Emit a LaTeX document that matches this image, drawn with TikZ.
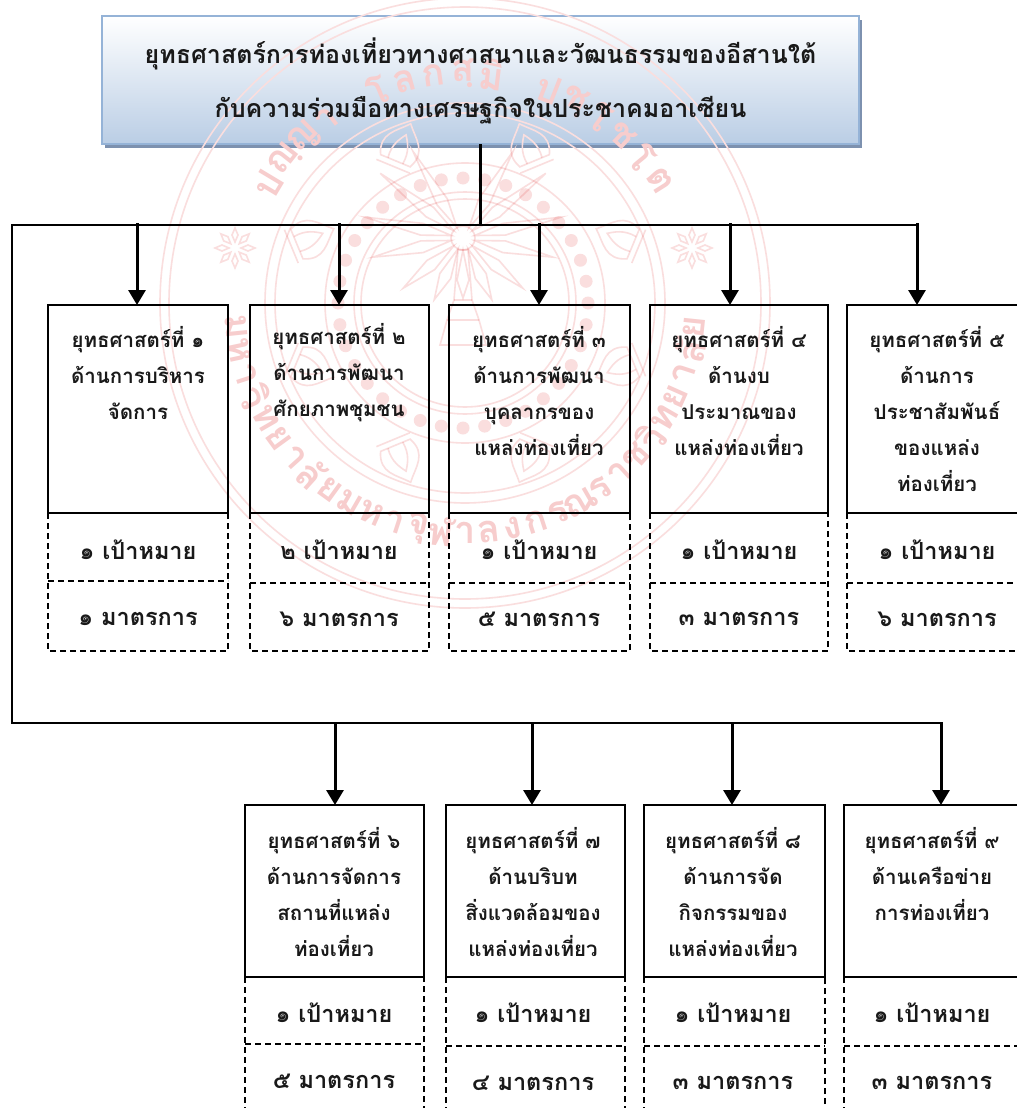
\documentclass[tikz,border=0pt]{standalone}
\usepackage{fontspec}
\usetikzlibrary{arrows.meta}
\setmainfont[Script=Thai]{Loma}
\definecolor{wmline}{RGB}{250,222,222}
\definecolor{wmtext}{RGB}{247,205,205}
\definecolor{boxedge}{RGB}{149,179,215}
\definecolor{boxshadow}{RGB}{125,145,175}
\tikzset{
  boxat/.style n args={4}{at={({(#1+#3)/2},{(#2+#4)/2})},minimum width={(#3-#1)*1pt},minimum height={(#4-#2)*1pt},inner sep=0pt,outer sep=0pt,rectangle},
  solidbox/.style={draw=black,line width=2.2pt},
  dashbox/.style={draw=black,line width=1.7pt,dash pattern=on 6pt off 4pt},
  linetext/.style={font=\fontsize{20.5}{36}\selectfont\bfseries,align=center,inner sep=0pt,text=black!90},
  bigtext/.style={font=\fontsize{23.5}{28}\selectfont\bfseries,inner sep=0pt,text=black!90},
  titletext/.style={font=\fontsize{25}{54}\selectfont\bfseries,align=center,inner sep=0pt,text=black!90},
  rail/.style={draw=black,line width=2.2pt,line join=miter},
  arrowline/.style={draw=black,line width=3pt,-{Triangle[length=15pt,width=17pt]}},
  wm/.style={draw=wmline,line width=1.6pt},
  wmglyph/.style={text=wmtext,inner sep=0pt,font=\fontsize{38}{38}\selectfont\bfseries},
}
\newcommand\stratcol[9]{%
  \node[boxat={#2}{\rowtop}{#3}{\rowbot},solidbox] (s#1) {};
  \node[boxat={#2}{\rowbot}{#3}{#4}] (g#1) {};
  \node[boxat={#2}{#4}{#3}{\rowend}] (m#1) {};
  \draw[dashbox] (s#1.south west) -- (m#1.south west) -- (m#1.south east) -- (s#1.south east);
  \draw[dashbox] (g#1.south west) -- (g#1.south east);
  \node[linetext] (st#1) at (#5,#6) {#7};
  \node[bigtext] (gt#1) at (#5,\goaly) {#8};
  \node[bigtext] (mt#1) at (#5,\measy) {#9};
}
\begin{document}
\begin{tikzpicture}[x=1pt,y=-1pt]
\useasboundingbox (0,0) rectangle (1017,1108);
\clip (0,0) rectangle (1017,1108);
\fill[white] (0,0) rectangle (1017,1108);
% title box
\node[boxat={105}{20}{862}{148},fill=boxshadow] (topshadow) {};
\node[boxat={102}{16}{859}{144},draw=boxedge,line width=2pt,top color=white,bottom color=boxedge!65] (top) {};
% watermark
\begin{scope}[blend group=multiply]
\foreach \r in {305,296,200,190,140,111,104} \draw[wm] (465,303) circle[radius=\r];
\foreach \a in {0,10,...,350} \fill[wmline] ({463+125*cos(\a)},{303-125*sin(\a)}) circle[radius=6.5];
\foreach \a in {0,45,...,315}{
  \begin{scope}[shift={({465+168*cos(\a+22.5)},{303-168*sin(\a+22.5)})},rotate={90-\a-22.5}]
    \draw[wm] (-16,14) .. controls (-26,-6) and (-10,-14) .. (0,-26) .. controls (10,-14) and (26,-6) .. (16,14) -- cycle;
    \draw[wm] (-8,14) .. controls (-10,0) and (-4,-8) .. (0,-14) .. controls (4,-8) and (10,0) .. (8,14);
    \draw[wm] (-18,20) -- (18,20);
  \end{scope}
}
\foreach \a/\l in {90/60,65/68,115/68,40/78,140/78,12/92,168/92,-12/100,192/100,-38/105,218/105,-60/100,240/100}{
  \draw[wm,rotate around={-\a:(463,238)}] (475,238) -- (505,232) -- (463+\l,238) -- (505,244) -- cycle;
}
\draw[wm] (463,238) circle[radius=12];
\draw[wm] (458,250) -- (454,300) -- (447,320) -- (440,345) -- (486,345) -- (479,320) -- (472,300) -- (468,250) -- cycle;
\draw[wm] (447,320) -- (479,320) (454,300) -- (472,300);
\foreach \x in {235,692}{
  \foreach \a in {0,45,...,315} \draw[wm,rotate around={\a:(\x,248)}] (\x,242) -- (\x-3,235) -- (\x,228) -- (\x+3,235) -- cycle;
}
\foreach \c [count=\i from 0] in {ป,ญฺ,ญ,า,{},โ,ล,ก,สฺ,มิ,{},ป,ชฺ,โ,ช,โ,ต}{
  \pgfmathsetmacro\ang{149-\i*7.3}
  \pgfmathsetmacro\rot{\ang-90}
  \node[wmglyph,rotate=\rot] at ({465+230*cos(\ang)},{303-230*sin(\ang)}) {\c};
}
\foreach \c [count=\i from 0] in {ม,ห,า,วิ,ท,ย,า,ลั,ย,ม,ห,า,จุ,ฬ,า,ล,ง,ก,ร,ณ,ร,า,ช,วิ,ท,ย,า,ลั,ย}{
  \pgfmathsetmacro\ang{186+\i*6}
  \pgfmathsetmacro\rot{\ang+90}
  \node[wmglyph,rotate=\rot] at ({465+230*cos(\ang)},{303-230*sin(\ang)}) {\c};
}
\end{scope}
\node[titletext] (toptext) at (480.5,81) {ยุทธศาสตร์การท่องเที่ยวทางศาสนาและวัฒนธรรมของอีสานใต้\\กับความร่วมมือทางเศรษฐกิจในประชาคมอาเซียน};
% row 1
\def\rowtop{305}\def\rowbot{513}\def\rowend{651}\def\goaly{550}\def\measy{619}
\stratcol{1}{48}{228}{581}{138}{373}{ยุทธศาสตร์ที่ ๑\\ด้านการบริหาร\\จัดการ}{๑ เป้าหมาย}{๑ มาตรการ}
\stratcol{2}{250}{429}{583}{339}{373}{ยุทธศาสตร์ที่ ๒\\ด้านการพัฒนา\\ศักยภาพชุมชน}{๒ เป้าหมาย}{๖ มาตรการ}
\stratcol{3}{449}{630}{583}{539}{391}{ยุทธศาสตร์ที่ ๓\\ด้านการพัฒนา\\บุคลากรของ\\แหล่งท่องเที่ยว}{๑ เป้าหมาย}{๕ มาตรการ}
\stratcol{4}{650}{828}{583}{739}{391}{ยุทธศาสตร์ที่ ๔\\ด้านงบ\\ประมาณของ\\แหล่งท่องเที่ยว}{๑ เป้าหมาย}{๓ มาตรการ}
\stratcol{5}{847}{1030}{583}{937}{409}{ยุทธศาสตร์ที่ ๕\\ด้านการ\\ประชาสัมพันธ์\\ของแหล่ง\\ท่องเที่ยว}{๑ เป้าหมาย}{๖ มาตรการ}
% row 2
\def\rowtop{805}\def\rowbot{977}\def\rowend{1125}\def\goaly{1013}\def\measy{1081}
\stratcol{6}{245}{424}{1044}{334}{892}{ยุทธศาสตร์ที่ ๖\\ด้านการจัดการ\\สถานที่แหล่ง\\ท่องเที่ยว}{๑ เป้าหมาย}{๕ มาตรการ}
\def\measy{1083}
\stratcol{7}{446}{625}{1046}{533}{892}{ยุทธศาสตร์ที่ ๗\\ด้านบริบท\\สิ่งแวดล้อมของ\\แหล่งท่องเที่ยว}{๑ เป้าหมาย}{๔ มาตรการ}
\stratcol{8}{644}{825}{1046}{733}{892}{ยุทธศาสตร์ที่ ๘\\ด้านการจัด\\กิจกรรมของ\\แหล่งท่องเที่ยว}{๑ เป้าหมาย}{๓ มาตรการ}
\stratcol{9}{844}{1030}{1046}{932}{874}{ยุทธศาสตร์ที่ ๙\\ด้านเครือข่าย\\การท่องเที่ยว}{๑ เป้าหมาย}{๓ มาตรการ}
% connectors
\coordinate (railL) at (12,225);
\coordinate (railR) at (917,225);
\coordinate (lowL) at (12,723);
\coordinate (lowR) at (941,723);
\coordinate (r1) at (137,223);
\coordinate (r2) at (339,223);
\coordinate (r3) at (539,223);
\coordinate (r4) at (730,223);
\coordinate (r5) at (917,223);
\coordinate (q6) at (335,722);
\coordinate (q7) at (532,722);
\coordinate (q8) at (732,722);
\coordinate (q9) at (941,722);
\draw[rail] (top.south) -- (top.south |- railL);
\draw[rail] (railR) -- (railL) -- (lowL) -- (lowR);
\foreach \i in {1,...,5} \draw[arrowline] (r\i) -- (r\i |- s\i.north);
\foreach \i in {6,...,9} \draw[arrowline] (q\i) -- (q\i |- s\i.north);
\end{tikzpicture}
\end{document}
